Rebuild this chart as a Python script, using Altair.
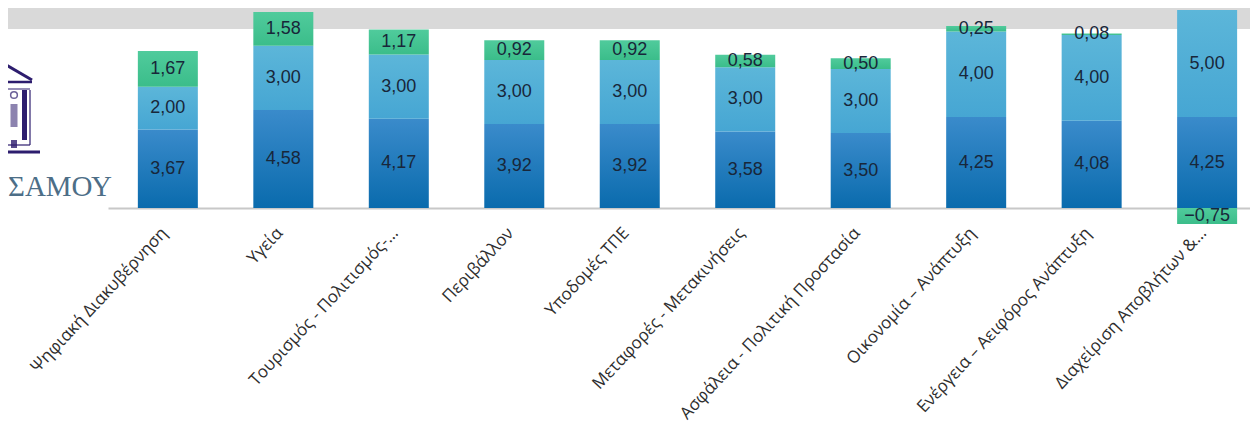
import json
import pandas as pd
import altair as alt

categories = [
    "Ψηφιακή Διακυβέρνηση",
    "Υγεία",
    "Τουρισμός - Πολιτισμός-…",
    "Περιβάλλον",
    "Υποδομές ΤΠΕ",
    "Μεταφορές - Μετακινήσεις",
    "Ασφάλεια - Πολιτική Προστασία",
    "Οικονομία – Ανάπτυξη",
    "Ενέργεια – Αειφόρος Ανάπτυξη",
    "Διαχείριση Αποβλήτων &…",
]
series_names = ["bottom", "middle", "top"]
bottom_vals = [3.67, 4.58, 4.17, 3.92, 3.92, 3.58, 3.50, 4.25, 4.08, 4.25]
middle_vals = [2.00, 3.00, 3.00, 3.00, 3.00, 3.00, 3.00, 4.00, 4.00, 5.00]
top_vals = [1.67, 1.58, 1.17, 0.92, 0.92, 0.58, 0.50, 0.25, 0.08, -0.75]

rows = []
for i, c in enumerate(categories):
    for order, (s, vals) in enumerate(zip(series_names, [bottom_vals, middle_vals, top_vals])):
        rows.append({"idx": i, "cat": c, "series": s, "order": order, "value": vals[i]})
df = pd.DataFrame(rows)

W, H = 1142, 200
label_expr = json.dumps(categories, ensure_ascii=False) + "[datum.value]"
x_scale = alt.Scale(domain=[-0.475, 9.328], nice=False, zero=False)

x_enc = alt.X(
    "idx:Q",
    scale=x_scale,
    axis=alt.Axis(
        values=list(range(10)), labelExpr=label_expr, title=None, grid=False,
        ticks=False, domain=True, domainColor="#c8c8c8", domainWidth=2,
        labelAngle=-47, labelAlign="right", labelBaseline="middle",
        labelFont="Open Sans", labelFontSize=17, labelColor="#2e2e2e",
        labelPadding=22, labelOffset=-4, labelOverlap=False, labelBound=False,
        labelFlush=False, labelLimit=400,
    ),
)
y_scale = alt.Scale(domain=[0, 9.346], nice=False, zero=False)

base = alt.Chart(df).transform_stack(
    stack="value", groupby=["idx"], as_=["y0", "y1"],
    sort=[alt.SortField("order", order="ascending")],
).transform_calculate(
    mid="(datum.y0 + datum.y1) / 2",
    lbl="replace(format(datum.value, '.2f'), '.', ',')",
)

def grad(c_bottom, c_top):
    return alt.Gradient(
        gradient="linear", x1=0, y1=1, x2=0, y2=0,
        stops=[alt.GradientStop(color=c_bottom, offset=0), alt.GradientStop(color=c_top, offset=1)],
    )

fills = {
    "bottom": grad("#0a6bad", "#3a8bcb"),
    "middle": grad("#46a6d3", "#5cb6d9"),
    "top": grad("#3bbd8a", "#50cb9c"),
}

one = alt.Chart(df).transform_filter(alt.datum.idx == 0).transform_filter(alt.datum.order == 0)

# decorative header band
band = one.mark_rect(color="#d9d9d9").encode(
    x=alt.value(-110), x2=alt.value(W), y=alt.value(0), y2=alt.value(21)
)

bars = []
for s in series_names:
    bars.append(
        base.transform_filter(alt.datum.series == s).mark_bar(size=60, fill=fills[s]).encode(
            x=x_enc,
            y=alt.Y("y1:Q", scale=y_scale, axis=None),
            y2="y0:Q",
        )
    )

texts = base.mark_text(font="Liberation Sans", fontSize=18, color="#18273a", baseline="middle").encode(
    x=alt.X("idx:Q", scale=x_scale),
    y=alt.Y("mid:Q", scale=y_scale),
    text="lbl:N",
)

logo_color = "#2d1d6e"
logo_text = one.mark_text(
    text="ΣΑΜΟΥ", font="Liberation Serif", fontSize=29, color="#4d6e87", align="left", baseline="alphabetic"
).encode(x=alt.value(-100), y=alt.value(188))

def lrule(x1, y1, x2, y2, w=3, op=1.0):
    return one.mark_rule(color=logo_color, strokeWidth=w, opacity=op).encode(
        x=alt.value(x1), y=alt.value(y1), x2=alt.value(x2), y2=alt.value(y2))

logo = [
    lrule(-105, 55, -76, 72, 3),
    lrule(-110, 74, -76, 74, 2.5),
    lrule(-110, 81, -78, 81, 1),
    lrule(-83.5, 82, -83.5, 132, 5),
    lrule(-78, 82, -78, 137, 1.2),
    lrule(-94, 96, -94, 119, 7, 0.55),
    lrule(-94, 132, -94, 140, 6, 0.8),
    lrule(-110, 137, -78, 137, 1.2),
    lrule(-110, 144, -68, 144, 3),
]
circle = one.mark_point(shape="circle", size=45, filled=False, color=logo_color, strokeWidth=1.5).encode(
    x=alt.value(-94), y=alt.value(87))

chart = alt.layer(band, *bars, texts, logo_text, *logo, circle).properties(
    width=W, height=H,
    padding={"left": 108 - 8, "top": 0, "right": 0, "bottom": 220},
    autosize=alt.AutoSizeParams(type="none"),
    background="white",
).configure_view(stroke=None)

chart.save("out.html", embed_options={"renderer": "svg", "actions": False})
